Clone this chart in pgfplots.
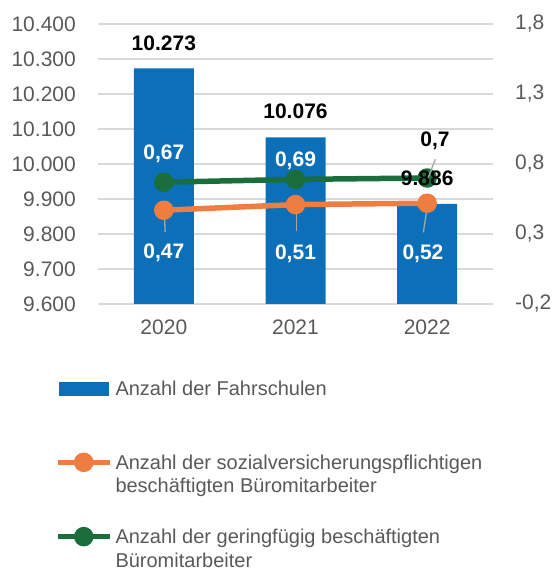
\documentclass[border=0pt]{standalone}
\usepackage{pgfplots}
\pgfplotsset{compat=1.18}
\usepackage{fontspec}
\setmainfont{Liberation Sans}
\definecolor{barblue}{HTML}{0C70B8}
\definecolor{lorange}{HTML}{ED7D40}
\definecolor{lgreen}{HTML}{1A6E3B}
\definecolor{gridgray}{HTML}{D9D9D9}
\definecolor{tickgray}{HTML}{595959}
\definecolor{leadergray}{HTML}{A6A6A6}
\pgfplotsset{
  base/.style={at={(98pt,268pt)}, anchor=south west, scale only axis,
    width=395pt, height=280pt, xmin=-0.5, xmax=2.5,
    axis line style={draw=none}, major tick length=0pt,
    tick label style={font=\fontsize{21}{25}\selectfont, text=tickgray, inner sep=0pt},
  },
  lbl/.style={every node near coord/.append style={anchor=base, inner sep=0pt, font=\bfseries\fontsize{21}{25}\selectfont, text=#1}},
}
\begin{document}
\begin{tikzpicture}
\useasboundingbox (0,0) rectangle (556pt,572pt);
% ---- Axis 1: bars (left axis)
\begin{axis}[base,
  ymin=9600, ymax=10400, ytick={9600,9700,...,10400},
  scaled y ticks=false,
  ymajorgrids, grid style={gridgray, line width=1.5pt},
  xtick={0,1,2}, xticklabels={2020,2021,2022},
  xticklabel style={anchor=north, yshift=-16pt},
  yticklabel style={anchor=east, xshift=-22pt, /pgf/number format/fixed, /pgf/number format/precision=0, /pgf/number format/1000 sep={.}, /pgf/number format/assume math mode=true},
]
\addplot[ybar, bar width=60pt, fill=barblue, draw=none] coordinates {(0,10273) (1,10076) (2,9886)};
\end{axis}
% ---- Axis 2: lines (right axis)
\begin{axis}[base,
  ymin=-0.2, ymax=1.8, ytick={-0.2,0.3,0.8,1.3,1.8},
  yticklabel pos=right, xtick=\empty,
  yticklabel style={anchor=west, xshift=22pt, /pgf/number format/fixed, /pgf/number format/fixed zerofill, /pgf/number format/precision=1, /pgf/number format/use comma, /pgf/number format/assume math mode=true},
  clip=false,
  legend style={at={(axis description cs:-0.10886,-0.2663)}, anchor=north west, draw=none, fill=none, inner sep=0pt, outer sep=0pt, row sep=27pt, column sep=3pt, cells={anchor=base west}, nodes={inner sep=0pt, text depth=, text=tickgray, font=\fontsize{20}{23.5}\selectfont}},
]
\addlegendimage{legend image code/.code={\fill[barblue] (1pt,-0.5pt) rectangle (50pt,13pt);}}
\addlegendentry{\parbox[t]{430pt}{\strut Anzahl der Fahrschulen\\\strut}}
\addplot[lorange, line width=5.5pt, line join=round, mark=*, mark size=7pt, mark options={fill=lorange, draw=none},
  legend image code/.code={\draw[lorange, line width=5.5pt] (0pt,7pt) -- (52pt,7pt); \fill[lorange] (26pt,7pt) circle (7pt);}]
  coordinates {(0,0.47) (1,0.51) (2,0.52)};
\addlegendentry{\parbox[t]{430pt}{\strut Anzahl der sozialversicherungspflichtigen\\\strut beschäftigten Büromitarbeiter}}
\addplot[lgreen, line width=5.5pt, line join=round, mark=*, mark size=7pt, mark options={fill=lgreen, draw=none},
  legend image code/.code={\draw[lgreen, line width=5.5pt] (0pt,7pt) -- (52pt,7pt); \fill[lgreen] (26pt,7pt) circle (7pt);}]
  coordinates {(0,0.67) (1,0.69) (2,0.7)};
\addlegendentry{\parbox[t]{430pt}{\strut Anzahl der geringfügig beschäftigten\\\strut Büromitarbeiter}}
% leader lines
\addplot[forget plot, leadergray, line width=1.3pt] coordinates {(0.004,0.45) (0.01,0.316)};
\addplot[forget plot, leadergray, line width=1.3pt] coordinates {(1.005,0.459) (1.005,0.321)};
\addplot[forget plot, leadergray, line width=1.3pt] coordinates {(1.997,0.471) (1.971,0.312)};
% data labels of the lines
\addplot[forget plot, draw=none, mark=none, nodes near coords, point meta=explicit symbolic, lbl=white]
  table[meta=label] {
x y label
0 0.126 0,47
1 0.121 0,51
1.968 0.119 0,52
0 0.8286 0,67
1 0.782 0,69
};
\end{axis}
% ---- Axis 3: bar value labels on top
\begin{axis}[base, hide axis, ymin=9600, ymax=10400, clip=false]
\addplot[draw=none, mark=none, lbl=black,
  nodes near coords={\pgfmathprintnumber[fixed,precision=0,1000 sep={.},assume math mode=true]{\pgfplotspointmeta}},
  every node near coord/.append style={yshift=18.4pt}]
  coordinates {(0,10273) (1,10076) (2,9886)};
\end{axis}
% ---- Axis 4: green 2022 label with leader (right-axis scale)
\begin{axis}[base, hide axis, ymin=-0.2, ymax=1.8, clip=false]
\addplot[leadergray, line width=1.3pt] coordinates {(2.062,0.834) (2.009,0.705)};
\addplot[draw=none, mark=none, nodes near coords, point meta=explicit symbolic, lbl=black]
  table[meta=label] {
x y label
2.06 0.924 0,7
};
\end{axis}
\end{tikzpicture}
\end{document}
